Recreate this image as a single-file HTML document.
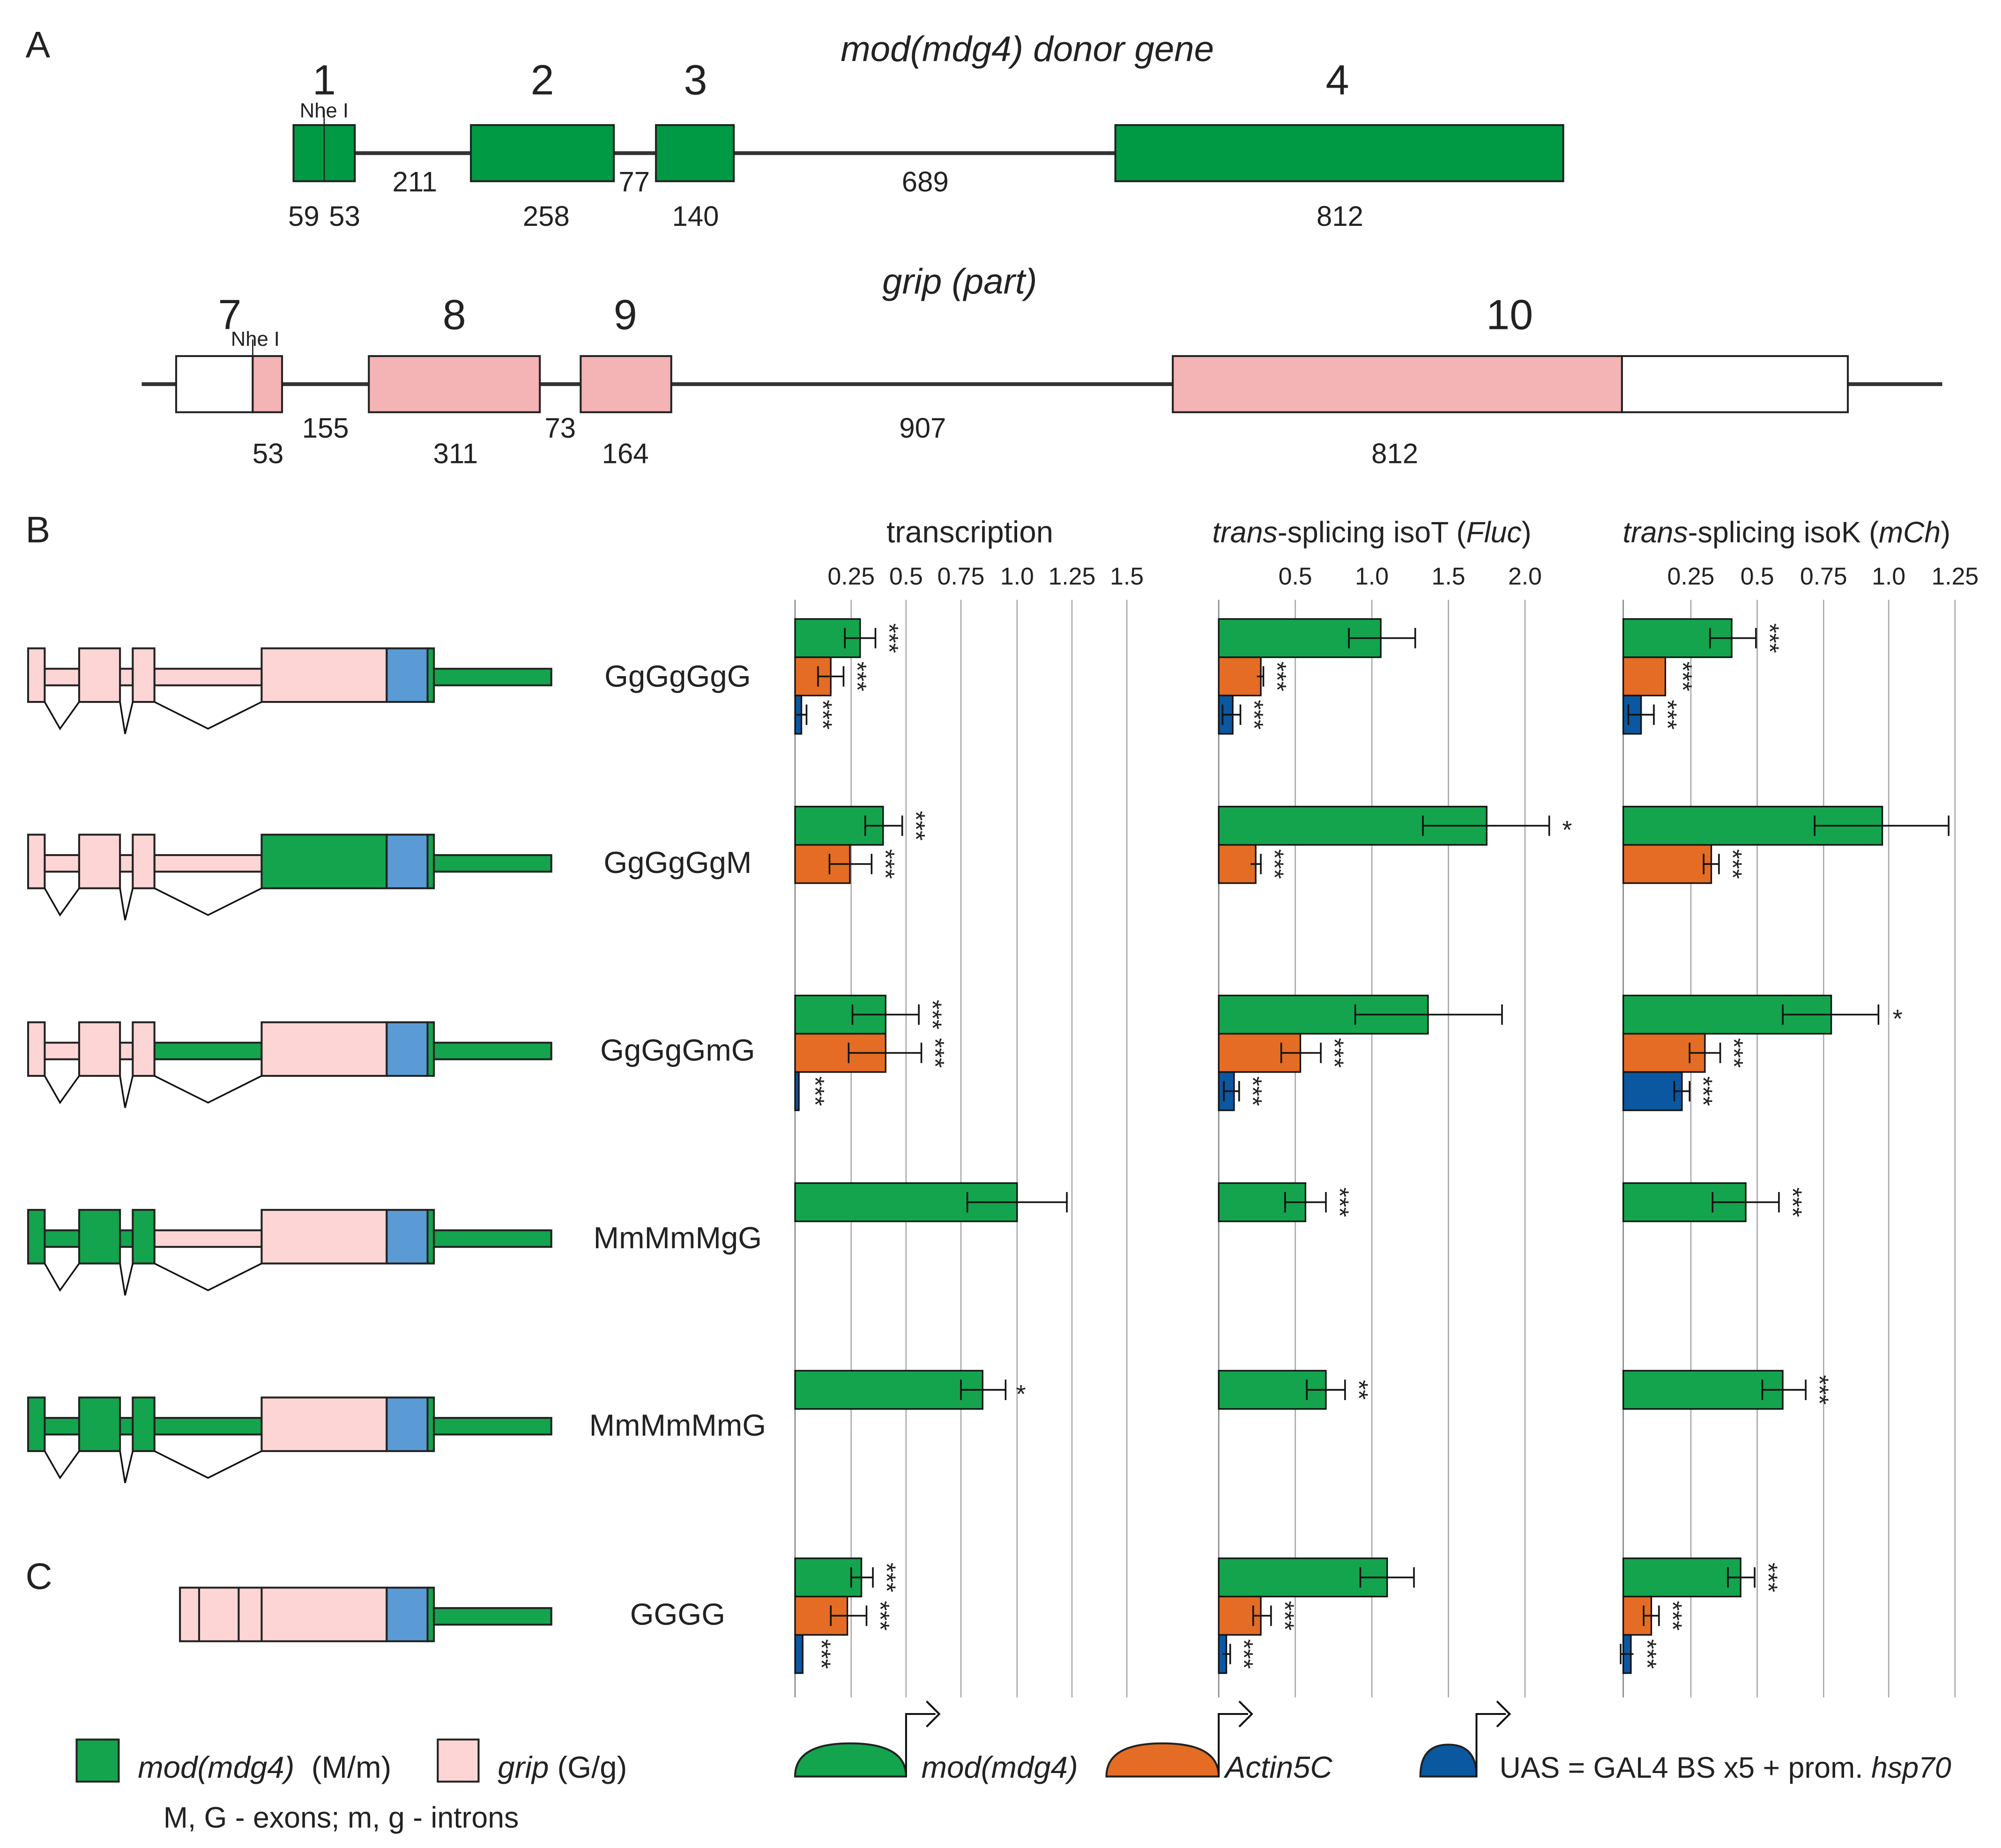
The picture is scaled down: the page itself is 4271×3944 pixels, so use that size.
<!DOCTYPE html>
<html><head><meta charset="utf-8"><style>
html,body{margin:0;padding:0;background:#fff;}
svg{display:block;}
text{font-family:"Liberation Sans",Arial,sans-serif;fill:#222;}
.it{font-style:italic;}
.ex{stroke:#222;stroke-width:1.5;}
.pk{fill:#fdd5d5;}
.gr{fill:#14a44d;}
.bl{fill:#5b9bd5;}
.v{fill:none;stroke:#111;stroke-width:1.3;}
.g{stroke:#aaa;stroke-width:1;}
.bar{stroke:#111;stroke-width:1.2;}
.eb{stroke:#111;stroke-width:1.3;fill:none;}
.st{font-size:20px;}
.tk{font-size:19px;text-anchor:middle;}
</style></head><body>
<svg width="4271" height="3944" viewBox="0 0 1568 1448" xmlns="http://www.w3.org/2000/svg">
<rect width="1568" height="1448" fill="#fff"/>
<text x="20" y="45" font-size="29">A</text>
<text x="805" y="48" font-size="28" class="it" text-anchor="middle">mod(mdg4) donor gene</text>
<line x1="230" y1="120" x2="1225" y2="120" stroke="#333" stroke-width="3"/>
<g fill="#009a44" stroke="#222" stroke-width="1.5">
<rect x="230" y="98" width="48" height="44"/>
<rect x="369" y="98" width="112" height="44"/>
<rect x="514" y="98" width="61" height="44"/>
<rect x="874" y="98" width="351" height="44"/>
</g>
<line x1="254" y1="86" x2="254" y2="142" stroke="#222" stroke-width="1"/>
<text x="254" y="92" font-size="16" text-anchor="middle">Nhe I</text>
<g font-size="33" text-anchor="middle">
<text x="254" y="74">1</text><text x="425" y="74">2</text><text x="545" y="74">3</text><text x="1048" y="74">4</text>
</g>
<g font-size="22" text-anchor="middle">
<text x="325" y="150">211</text><text x="497" y="150">77</text><text x="725" y="150">689</text>
<text x="238" y="177">59</text><text x="270" y="177">53</text><text x="428" y="177">258</text><text x="545" y="177">140</text><text x="1050" y="177">812</text>
</g>
<text x="752" y="230" font-size="28" class="it" text-anchor="middle">grip (part)</text>
<line x1="111" y1="301" x2="1522" y2="301" stroke="#333" stroke-width="3"/>
<g stroke="#222" stroke-width="1.5">
<rect x="138" y="279" width="60" height="44" fill="#fff"/>
<rect x="198" y="279" width="23" height="44" fill="#f4b3b5"/>
<rect x="289" y="279" width="134" height="44" fill="#f4b3b5"/>
<rect x="455" y="279" width="71" height="44" fill="#f4b3b5"/>
<rect x="919" y="279" width="352" height="44" fill="#f4b3b5"/>
<rect x="1271" y="279" width="177" height="44" fill="#fff"/>
</g>
<line x1="198" y1="266" x2="198" y2="279" stroke="#222" stroke-width="1"/>
<text x="200" y="271" font-size="16" text-anchor="middle">Nhe I</text>
<g font-size="33" text-anchor="middle">
<text x="180" y="258">7</text><text x="356" y="258">8</text><text x="490" y="258">9</text><text x="1183" y="258">10</text>
</g>
<g font-size="22" text-anchor="middle">
<text x="255" y="343">155</text><text x="439" y="343">73</text><text x="723" y="343">907</text>
<text x="210" y="363">53</text><text x="357" y="363">311</text><text x="490" y="363">164</text><text x="1093" y="363">812</text>
</g>

<text x="20" y="425" font-size="29">B</text>
<text x="20" y="1245" font-size="29">C</text>
<text x="760" y="425" font-size="24" text-anchor="middle">transcription</text>
<text x="1075" y="425" font-size="23" text-anchor="middle"><tspan class="it">trans</tspan>-splicing isoT (<tspan class="it">Fluc</tspan>)</text>
<text x="1400" y="425" font-size="23" text-anchor="middle"><tspan class="it">trans</tspan>-splicing isoK (<tspan class="it">mCh</tspan>)</text>

<g class="g">
<line x1="623" y1="470" x2="623" y2="1330" stroke="#888"/>
<line x1="667" y1="470" x2="667" y2="1330"/><line x1="710" y1="470" x2="710" y2="1330"/><line x1="753" y1="470" x2="753" y2="1330"/><line x1="797" y1="470" x2="797" y2="1330"/><line x1="840" y1="470" x2="840" y2="1330"/><line x1="883" y1="470" x2="883" y2="1330"/>
<line x1="955" y1="470" x2="955" y2="1330" stroke="#888"/>
<line x1="1015" y1="470" x2="1015" y2="1330"/><line x1="1075" y1="470" x2="1075" y2="1330"/><line x1="1135" y1="470" x2="1135" y2="1330"/><line x1="1195" y1="470" x2="1195" y2="1330"/>
<line x1="1272" y1="470" x2="1272" y2="1330" stroke="#888"/>
<line x1="1325" y1="470" x2="1325" y2="1330"/><line x1="1377" y1="470" x2="1377" y2="1330"/><line x1="1429" y1="470" x2="1429" y2="1330"/><line x1="1480" y1="470" x2="1480" y2="1330"/><line x1="1532" y1="470" x2="1532" y2="1330"/>
</g>
<g>
<text class="tk" x="667" y="458">0.25</text><text class="tk" x="710" y="458">0.5</text><text class="tk" x="753" y="458">0.75</text><text class="tk" x="797" y="458">1.0</text><text class="tk" x="840" y="458">1.25</text><text class="tk" x="883" y="458">1.5</text>
<text class="tk" x="1015" y="458">0.5</text><text class="tk" x="1075" y="458">1.0</text><text class="tk" x="1135" y="458">1.5</text><text class="tk" x="1195" y="458">2.0</text>
<text class="tk" x="1325" y="458">0.25</text><text class="tk" x="1377" y="458">0.5</text><text class="tk" x="1429" y="458">0.75</text><text class="tk" x="1480" y="458">1.0</text><text class="tk" x="1532" y="458">1.25</text>
</g>

<g class="bar">
<rect x="623" y="485" width="51" height="30" fill="#14a44d"/><rect x="623" y="515" width="28" height="30" fill="#e46c24"/><rect x="623" y="545" width="5" height="30" fill="#0b57a0"/>
<rect x="623" y="632" width="69" height="30" fill="#14a44d"/><rect x="623" y="662" width="43" height="30" fill="#e46c24"/>
<rect x="623" y="780" width="71" height="30" fill="#14a44d"/><rect x="623" y="810" width="71" height="30" fill="#e46c24"/><rect x="623" y="840" width="3" height="30" fill="#0b57a0"/>
<rect x="623" y="927" width="174" height="30" fill="#14a44d"/>
<rect x="623" y="1074" width="147" height="30" fill="#14a44d"/>
<rect x="623" y="1221" width="52" height="30" fill="#14a44d"/><rect x="623" y="1251" width="41" height="30" fill="#e46c24"/><rect x="623" y="1281" width="6" height="30" fill="#0b57a0"/>
<rect x="955" y="485" width="127" height="30" fill="#14a44d"/><rect x="955" y="515" width="33" height="30" fill="#e46c24"/><rect x="955" y="545" width="11" height="30" fill="#0b57a0"/>
<rect x="955" y="632" width="210" height="30" fill="#14a44d"/><rect x="955" y="662" width="29" height="30" fill="#e46c24"/>
<rect x="955" y="780" width="164" height="30" fill="#14a44d"/><rect x="955" y="810" width="64" height="30" fill="#e46c24"/><rect x="955" y="840" width="12" height="30" fill="#0b57a0"/>
<rect x="955" y="927" width="68" height="30" fill="#14a44d"/>
<rect x="955" y="1074" width="84" height="30" fill="#14a44d"/>
<rect x="955" y="1221" width="132" height="30" fill="#14a44d"/><rect x="955" y="1251" width="33" height="30" fill="#e46c24"/><rect x="955" y="1281" width="6" height="30" fill="#0b57a0"/>
<rect x="1272" y="485" width="85" height="30" fill="#14a44d"/><rect x="1272" y="515" width="33" height="30" fill="#e46c24"/><rect x="1272" y="545" width="14" height="30" fill="#0b57a0"/>
<rect x="1272" y="632" width="203" height="30" fill="#14a44d"/><rect x="1272" y="662" width="69" height="30" fill="#e46c24"/>
<rect x="1272" y="780" width="163" height="30" fill="#14a44d"/><rect x="1272" y="810" width="64" height="30" fill="#e46c24"/><rect x="1272" y="840" width="46" height="30" fill="#0b57a0"/>
<rect x="1272" y="927" width="96" height="30" fill="#14a44d"/>
<rect x="1272" y="1074" width="125" height="30" fill="#14a44d"/>
<rect x="1272" y="1221" width="92" height="30" fill="#14a44d"/><rect x="1272" y="1251" width="22" height="30" fill="#e46c24"/><rect x="1272" y="1281" width="6" height="30" fill="#0b57a0"/>
</g>

<g class="eb">
<path d="M662 500H686M662 492V508M686 492V508"/>
<path d="M641 530H661M641 522V538M661 522V538"/>
<path d="M624 560H632M632 552V568"/>
<path d="M678 647H707M678 639V655M707 639V655"/>
<path d="M650 677H683M650 669V685M683 669V685"/>
<path d="M668 795H720M668 787V803M720 787V803"/>
<path d="M665 825H722M665 817V833M722 817V833"/>
<path d="M758 942H836M758 934V950M836 934V950"/>
<path d="M753 1089H788M753 1081V1097M788 1081V1097"/>
<path d="M667 1236H684M667 1228V1244M684 1228V1244"/>
<path d="M651 1266H679M651 1258V1274M679 1258V1274"/>
<path d="M1057 500H1109M1057 492V508M1109 492V508"/>
<path d="M985 530H990M990 522V538"/>
<path d="M958 560H972M958 552V568M972 552V568"/>
<path d="M1115 647H1214M1115 639V655M1214 639V655"/>
<path d="M980 677H988M988 669V685"/>
<path d="M1062 795H1177M1062 787V803M1177 787V803"/>
<path d="M1004 825H1035M1004 817V833M1035 817V833"/>
<path d="M959 855H971M959 847V863M971 847V863"/>
<path d="M1007 942H1039M1007 934V950M1039 934V950"/>
<path d="M1024 1089H1054M1024 1081V1097M1054 1081V1097"/>
<path d="M1066 1236H1108M1066 1228V1244M1108 1228V1244"/>
<path d="M982 1266H996M982 1258V1274M996 1258V1274"/>
<path d="M958 1296H964M964 1288V1304"/>
<path d="M1340 500H1376M1340 492V508M1376 492V508"/>
<path d="M1276 560H1296M1276 552V568M1296 552V568"/>
<path d="M1422 647H1527M1422 639V655M1527 639V655"/>
<path d="M1335 677H1347M1335 669V685M1347 669V685"/>
<path d="M1397 795H1472M1397 787V803M1472 787V803"/>
<path d="M1324 825H1348M1324 817V833M1348 817V833"/>
<path d="M1312 855H1324M1312 847V863M1324 847V863"/>
<path d="M1342 942H1394M1342 934V950M1394 934V950"/>
<path d="M1381 1089H1415M1381 1081V1097M1415 1081V1097"/>
<path d="M1354 1236H1375M1354 1228V1244M1375 1228V1244"/>
<path d="M1288 1266H1300M1288 1258V1274M1300 1258V1274"/>
<path d="M1270 1296H1280M1270 1288V1304"/>
</g>

<g class="st" text-anchor="middle">
<text transform="translate(690,500) rotate(90)">***</text>
<text transform="translate(665,530) rotate(90)">***</text>
<text transform="translate(638,560) rotate(90)">***</text>
<text transform="translate(711,647) rotate(90)">***</text>
<text transform="translate(687,677) rotate(90)">***</text>
<text transform="translate(724,795) rotate(90)">***</text>
<text transform="translate(726,825) rotate(90)">***</text>
<text transform="translate(632,855) rotate(90)">***</text>
<text x="800" y="1099">*</text>
<text transform="translate(688,1236) rotate(90)">***</text>
<text transform="translate(683,1266) rotate(90)">***</text>
<text transform="translate(637,1296) rotate(90)">***</text>
<text transform="translate(994,530) rotate(90)">***</text>
<text transform="translate(976,560) rotate(90)">***</text>
<text x="1228" y="657">*</text>
<text transform="translate(992,677) rotate(90)">***</text>
<text transform="translate(1039,825) rotate(90)">***</text>
<text transform="translate(975,855) rotate(90)">***</text>
<text transform="translate(1043,942) rotate(90)">***</text>
<text transform="translate(1058,1089) rotate(90)">**</text>
<text transform="translate(1000,1266) rotate(90)">***</text>
<text transform="translate(968,1296) rotate(90)">***</text>
<text transform="translate(1380,500) rotate(90)">***</text>
<text transform="translate(1312,530) rotate(90)">***</text>
<text transform="translate(1300,560) rotate(90)">***</text>
<text transform="translate(1351,677) rotate(90)">***</text>
<text x="1487" y="805">*</text>
<text transform="translate(1352,825) rotate(90)">***</text>
<text transform="translate(1328,855) rotate(90)">***</text>
<text transform="translate(1398,942) rotate(90)">***</text>
<text transform="translate(1419,1089) rotate(90)">***</text>
<text transform="translate(1379,1236) rotate(90)">***</text>
<text transform="translate(1304,1266) rotate(90)">***</text>
<text transform="translate(1284,1296) rotate(90)">***</text>
</g>

<g class="ex">
<rect x="35" y="524" width="27" height="13" class="pk"/><rect x="94" y="524" width="10" height="13" class="pk"/><rect x="121" y="524" width="84" height="13" class="pk"/>
<rect x="22" y="508" width="13" height="42" class="pk"/><rect x="62" y="508" width="32" height="42" class="pk"/><rect x="104" y="508" width="17" height="42" class="pk"/>
<rect x="205" y="508" width="98" height="42" class="pk"/><rect x="303" y="508" width="32" height="42" class="bl"/><rect x="335" y="508" width="5" height="42" class="gr"/><rect x="340" y="524" width="92" height="13" class="gr"/>
</g>
<path class="v" d="M35 550L47 571L62 550M94 550L98 575L104 550M121 550L163 571L205 550"/>
<g class="ex" transform="translate(0,146)">
<rect x="35" y="524" width="27" height="13" class="pk"/><rect x="94" y="524" width="10" height="13" class="pk"/><rect x="121" y="524" width="84" height="13" class="pk"/>
<rect x="22" y="508" width="13" height="42" class="pk"/><rect x="62" y="508" width="32" height="42" class="pk"/><rect x="104" y="508" width="17" height="42" class="pk"/>
<rect x="205" y="508" width="98" height="42" class="gr"/><rect x="303" y="508" width="32" height="42" class="bl"/><rect x="335" y="508" width="5" height="42" class="gr"/><rect x="340" y="524" width="92" height="13" class="gr"/>
<path class="v" d="M35 550L47 571L62 550M94 550L98 575L104 550M121 550L163 571L205 550"/>
</g>
<g class="ex" transform="translate(0,293)">
<rect x="35" y="524" width="27" height="13" class="pk"/><rect x="94" y="524" width="10" height="13" class="pk"/><rect x="121" y="524" width="84" height="13" class="gr"/>
<rect x="22" y="508" width="13" height="42" class="pk"/><rect x="62" y="508" width="32" height="42" class="pk"/><rect x="104" y="508" width="17" height="42" class="pk"/>
<rect x="205" y="508" width="98" height="42" class="pk"/><rect x="303" y="508" width="32" height="42" class="bl"/><rect x="335" y="508" width="5" height="42" class="gr"/><rect x="340" y="524" width="92" height="13" class="gr"/>
<path class="v" d="M35 550L47 571L62 550M94 550L98 575L104 550M121 550L163 571L205 550"/>
</g>
<g class="ex" transform="translate(0,440)">
<rect x="35" y="524" width="27" height="13" class="gr"/><rect x="94" y="524" width="10" height="13" class="gr"/><rect x="121" y="524" width="84" height="13" class="pk"/>
<rect x="22" y="508" width="13" height="42" class="gr"/><rect x="62" y="508" width="32" height="42" class="gr"/><rect x="104" y="508" width="17" height="42" class="gr"/>
<rect x="205" y="508" width="98" height="42" class="pk"/><rect x="303" y="508" width="32" height="42" class="bl"/><rect x="335" y="508" width="5" height="42" class="gr"/><rect x="340" y="524" width="92" height="13" class="gr"/>
<path class="v" d="M35 550L47 571L62 550M94 550L98 575L104 550M121 550L163 571L205 550"/>
</g>
<g class="ex" transform="translate(0,587)">
<rect x="35" y="524" width="27" height="13" class="gr"/><rect x="94" y="524" width="10" height="13" class="gr"/><rect x="121" y="524" width="84" height="13" class="gr"/>
<rect x="22" y="508" width="13" height="42" class="gr"/><rect x="62" y="508" width="32" height="42" class="gr"/><rect x="104" y="508" width="17" height="42" class="gr"/>
<rect x="205" y="508" width="98" height="42" class="pk"/><rect x="303" y="508" width="32" height="42" class="bl"/><rect x="335" y="508" width="5" height="42" class="gr"/><rect x="340" y="524" width="92" height="13" class="gr"/>
<path class="v" d="M35 550L47 571L62 550M94 550L98 575L104 550M121 550L163 571L205 550"/>
</g>
<g class="ex">
<rect x="141" y="1244" width="162" height="42" class="pk"/>
<line x1="156" y1="1244" x2="156" y2="1286"/><line x1="187" y1="1244" x2="187" y2="1286"/><line x1="205" y1="1244" x2="205" y2="1286"/>
<rect x="303" y="1244" width="32" height="42" class="bl"/><rect x="335" y="1244" width="5" height="42" class="gr"/><rect x="340" y="1260" width="92" height="13" class="gr"/>
</g>

<g font-size="24" text-anchor="middle">
<text x="531" y="538">GgGgGgG</text>
<text x="531" y="684">GgGgGgM</text>
<text x="531" y="831">GgGgGmG</text>
<text x="531" y="978">MmMmMgG</text>
<text x="531" y="1125">MmMmMmG</text>
<text x="531" y="1273">GGGG</text>
</g>

<rect x="60" y="1363" width="33" height="33" fill="#14a44d" stroke="#222" stroke-width="1.5"/>
<text x="108" y="1393" font-size="24" xml:space="preserve"><tspan class="it">mod(mdg4)</tspan>  (M/m)</text>
<rect x="343" y="1363" width="32" height="33" fill="#fdd5d5" stroke="#222" stroke-width="1.5"/>
<text x="390" y="1393" font-size="24"><tspan class="it">grip</tspan> (G/g)</text>
<text x="128" y="1432" font-size="23">M, G - exons; m, g - introns</text>

<g stroke="#222" stroke-width="1.5">
<path d="M623 1392 Q623 1366 666 1366 Q710 1366 710 1392 Z" fill="#14a44d"/>
<path d="M867 1392 Q867 1366 911 1366 Q955 1366 955 1392 Z" fill="#e46c24"/>
<path d="M1113 1392 Q1113 1367 1135 1367 Q1157 1367 1157 1392 Z" fill="#0b57a0"/>
</g>
<g fill="none" stroke="#111" stroke-width="1.5">
<path d="M710 1392V1343H733M726 1333L736 1343L726 1353"/>
<path d="M955 1392V1343H978M971 1333L981 1343L971 1353"/>
<path d="M1157 1392V1343H1180M1173 1333L1183 1343L1173 1353"/>
</g>
<text x="722" y="1393" font-size="24" class="it">mod(mdg4)</text>
<text x="960" y="1393" font-size="24" class="it">Actin5C</text>
<text x="1175" y="1393" font-size="23">UAS = GAL4 BS x5 + prom. <tspan class="it">hsp70</tspan></text>
</svg>
</body></html>
